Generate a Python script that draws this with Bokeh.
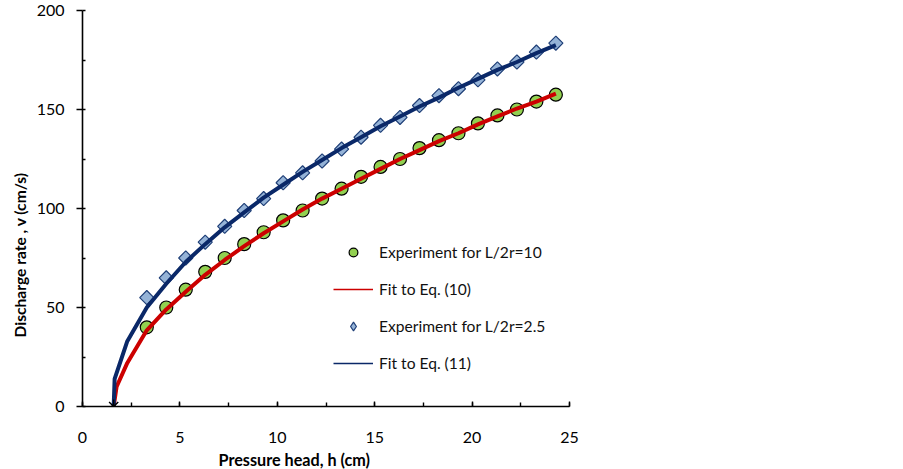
import numpy as np
from bokeh.plotting import figure
from bokeh.models import Range1d, SingleIntervalTicker, Legend, LegendItem, Title
from bokeh.embed import file_html
from bokeh.resources import INLINE

# ---- data ----
h_exp = [3.3, 4.3, 5.3, 6.3, 7.3, 8.3, 9.3, 10.3, 11.3, 12.3, 13.3,
         14.3, 15.3, 16.3, 17.3, 18.3, 19.3, 20.3, 21.3, 22.3, 23.3, 24.3]
v_exp_10 = [40, 50, 59, 68, 75, 82, 88, 94, 99, 105, 110,
            116, 121, 125, 130.5, 134.5, 138, 143, 147, 150, 154, 157.5]
v_exp_25 = [55, 65, 75, 83, 91, 99, 105, 113, 118, 124, 130,
            136, 142, 146, 152, 157, 160.5, 165, 170.5, 174, 179, 183.5]

h_fit_10 = [1.6, 1.75, 2.3, 3.3, 4.3, 5.3, 6.3, 7.3, 8.3, 9.3, 10.3, 11.3, 12.3,
            13.3, 14.3, 15.3, 16.3, 17.3, 18.3, 19.3, 20.3, 21.3, 22.3, 23.3, 24.3]
v_fit_10 = [0, 10, 22, 38.5, 49, 58, 66.5, 74, 81, 87.5, 93.5, 99.5, 105,
            110, 115, 120, 125, 129.5, 134, 138, 142.5, 146.5, 150.5, 154, 158]
h_fit_25 = [1.6, 1.65, 2.3, 3.3, 4.3, 5.3, 6.3, 7.3, 8.3, 9.3, 10.3, 11.3, 12.3,
            13.3, 14.3, 15.3, 16.3, 17.3, 18.3, 19.3, 20.3, 21.3, 22.3, 23.3, 24.3]
v_fit_25 = [0, 14, 33, 50, 62, 73, 82, 90.5, 98, 105.5, 112, 118.5, 124.5,
            130.5, 136, 141.5, 146.5, 151.5, 156, 161, 165.5, 170, 174, 178.5, 182.5]

origin_h = [1.6]
origin_v = [0]

labels = ["Experiment for L/2r=10", "Fit to Eq. (10)",
          "Experiment for L/2r=2.5", "Fit to Eq. (11)"]
x_title = "Pressure head, h (cm)"
y_title = "Discharge rate , v (cm/s)"

FONT = "Lato"
RED = "#CC0000"
NAVY = "#0A2868"
GREEN = "#92D050"
LBLUE = "#95B3D7"
DBLUE = "#1F3F77"

p = figure(frame_width=487, frame_height=396, output_backend="svg",
           toolbar_location=None, x_range=Range1d(0, 25), y_range=Range1d(0, 200),
           min_border_left=82, min_border_top=10, min_border_right=320,
           min_border_bottom=60)
p.outline_line_color = None
p.xgrid.visible = False
p.ygrid.visible = False
p.background_fill_color = "white"

# experiment L/2r=10
r_c = p.scatter(h_exp, v_exp_10, marker="circle", size=13, fill_color=GREEN,
                line_color="black", line_width=1.2)
# fit eq 10
p.line(h_fit_10, v_fit_10, line_color=RED, line_width=4)
# experiment L/2r=2.5
p.scatter(h_exp, v_exp_25, marker="square", angle=45, angle_units="deg",
          size=10, fill_color=LBLUE, line_color=DBLUE, line_width=1.2)
# fit eq 11
p.line(h_fit_25, v_fit_25, line_color=NAVY, line_width=4)

# star marker at origin of fits
p.scatter(origin_h, origin_v, marker="x", size=13, line_color="black", line_width=1.4)
p.scatter(origin_h, origin_v, marker="dash", angle=90, angle_units="deg", size=14,
          line_color="black", line_width=1.4)

# legend-only proxies (no visible data)
r_l10 = p.line([np.nan, np.nan], [np.nan, np.nan], line_color=RED, line_width=1.5)
r_l25 = p.line([np.nan, np.nan], [np.nan, np.nan], line_color=NAVY, line_width=1.5)
r_dl = p.scatter([np.nan], [np.nan], marker="diamond", fill_color=LBLUE,
                 line_color=DBLUE, line_width=1.2)

legend = Legend(items=[
    LegendItem(label=labels[0], renderers=[r_c]),
    LegendItem(label=labels[1], renderers=[r_l10]),
    LegendItem(label=labels[2], renderers=[r_dl]),
    LegendItem(label=labels[3], renderers=[r_l25]),
], location=(251, 32))
legend.border_line_color = None
legend.background_fill_alpha = 0
legend.padding = 0
legend.margin = 0
legend.spacing = 15
legend.glyph_width = 40
legend.glyph_height = 22
legend.label_height = 20
legend.label_standoff = 6
legend.label_text_font = FONT
legend.label_text_font_size = "15.6px"
legend.label_text_color = "#111111"
p.add_layout(legend, "center")

# axes
xa = p.xaxis[0]
xa.ticker = SingleIntervalTicker(interval=5, num_minor_ticks=2)
xa.major_tick_in = 5
xa.major_tick_out = 0
xa.minor_tick_in = 4
xa.minor_tick_out = 0
xa.major_label_standoff = 25

ya = p.yaxis[0]
ya.ticker = SingleIntervalTicker(interval=50, num_minor_ticks=2)
ya.major_tick_in = 0
ya.major_tick_out = 6
ya.minor_tick_in = 3
ya.minor_tick_out = 0
ya.major_label_standoff = 12

for ax in (xa, ya):
    ax.axis_line_color = "black"
    ax.axis_line_width = 1.6
    ax.major_tick_line_color = "black"
    ax.major_tick_line_width = 1.4
    ax.minor_tick_line_color = "black"
    ax.minor_tick_line_width = 1.4
    ax.major_label_text_font = FONT
    ax.major_label_text_font_size = "16px"
    ax.major_label_text_color = "black"

# axis titles (off-centre, as in the reference)
p.add_layout(Title(text=x_title, align="left", offset=136, text_font=FONT,
                   text_font_size="16.2px", text_font_style="bold",
                   text_color="black", standoff=4), "below")
p.add_layout(Title(text=y_title, align="left", offset=69, text_font=FONT,
                   text_font_size="15.6px", text_font_style="bold",
                   text_color="black", standoff=10), "left")

open("out.html", "w").write(file_html(p, INLINE))
